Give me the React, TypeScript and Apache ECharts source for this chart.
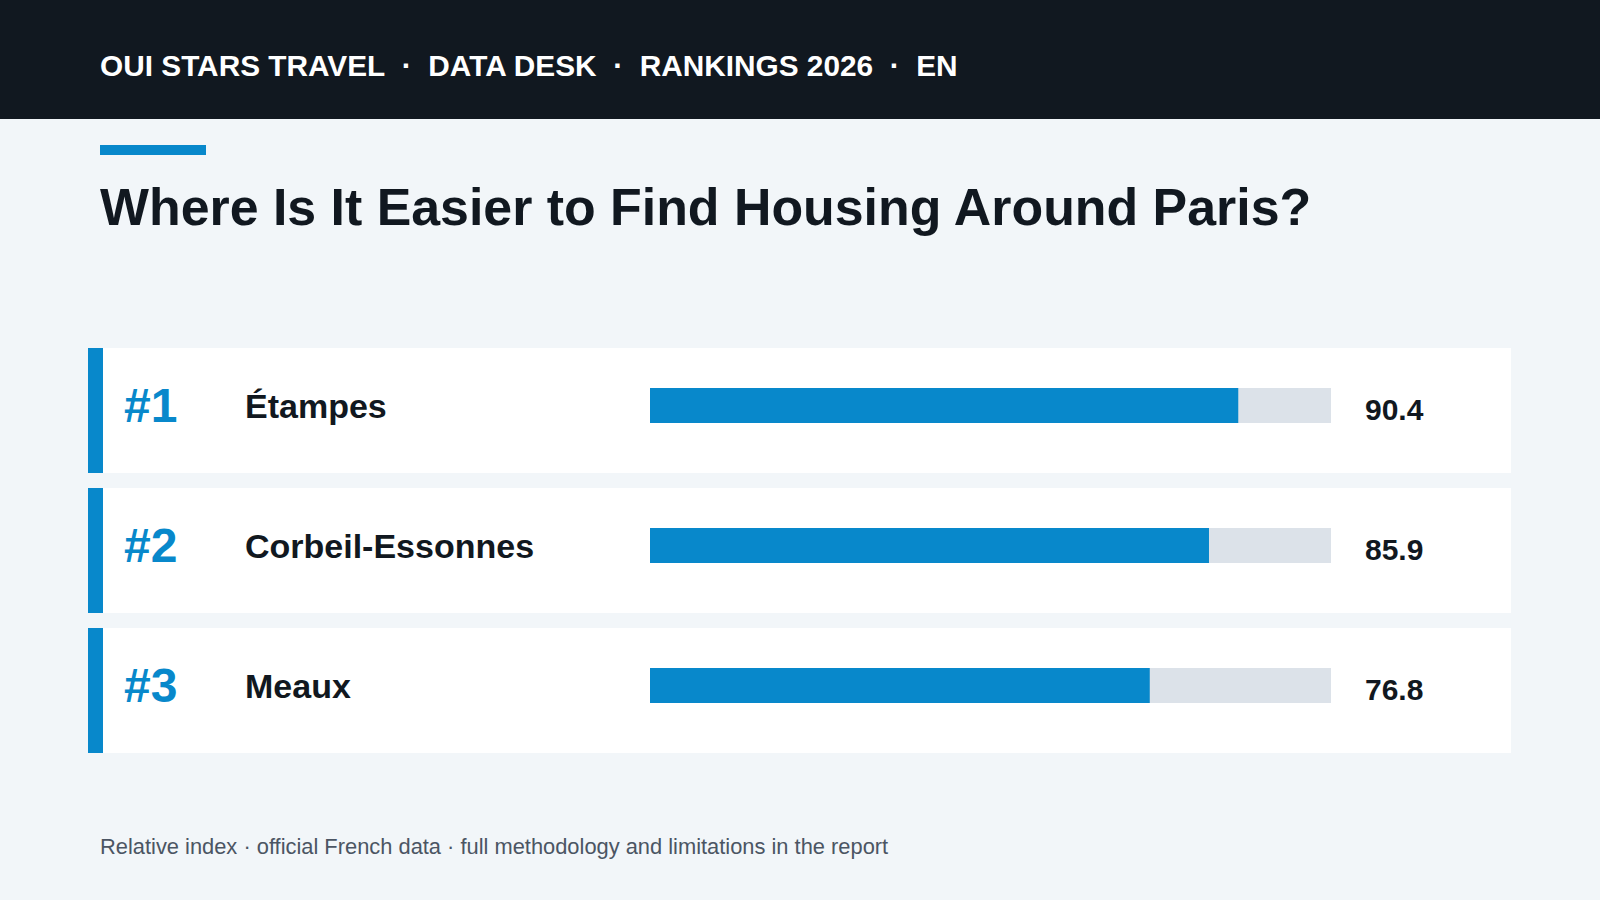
import React, { useEffect, useRef } from "react";
import * as echarts from "echarts";

const categories = ["Étampes", "Corbeil-Essonnes", "Meaux"];
const ranks = ["#1", "#2", "#3"];
const values = [90.4, 85.9, 76.8];
const axisMax = 104.65;
const trackValues = [axisMax, axisMax, axisMax];
const headerLine = "OUI STARS TRAVEL\u00a0\u00a0·\u00a0\u00a0DATA DESK\u00a0\u00a0·\u00a0\u00a0RANKINGS 2026\u00a0\u00a0·\u00a0\u00a0EN";
const titleLine = "Where Is It Easier to Find Housing Around Paris?";
const footerLine = "Relative index · official French data · full methodology and limitations in the report";

const FONT = '"Liberation Sans", Arial, sans-serif';
const BLUE = "#0888cb";
const INK = "#111820";
const cardTops = [348, 488, 628];

export default function App() {
  const ref = useRef<HTMLDivElement>(null);
  useEffect(() => {
    const chart = echarts.init(ref.current!, null, { renderer: "svg" });
    const cards = cardTops.flatMap((y) => [
      { type: "rect", z: 0, shape: { x: 88, y, width: 1423, height: 125 }, style: { fill: "#ffffff" } },
      { type: "rect", z: 1, shape: { x: 88, y, width: 15, height: 125 }, style: { fill: BLUE } },
    ]);
    chart.setOption({
      animation: false,
      backgroundColor: "#f2f6f9",
      textStyle: { fontFamily: FONT },
      title: [
        { text: headerLine, left: 95, top: 45, textStyle: { color: "#ffffff", fontSize: 29.8, fontWeight: "bold", fontFamily: FONT } },
        { text: titleLine, left: 95, top: 176, textStyle: { color: INK, fontSize: 51.87, fontWeight: "bold", fontFamily: FONT } },
        { text: footerLine, left: 95, top: 830, textStyle: { color: "#4b5563", fontSize: 21.86, fontWeight: "normal", fontFamily: FONT } },
      ],
      graphic: {
        elements: [
          { type: "rect", z: 0, shape: { x: 0, y: 0, width: 1600, height: 119 }, style: { fill: INK } },
          { type: "rect", z: 0, shape: { x: 100, y: 145, width: 106, height: 10 }, style: { fill: BLUE } },
          ...cards,
        ],
      },
      grid: { left: 650, top: 335.5, width: 681, height: 420, containLabel: false },
      xAxis: { type: "value", min: 0, max: axisMax, show: false },
      yAxis: [
        {
          type: "category",
          inverse: true,
          data: categories,
          axisLine: { show: false },
          axisTick: { show: false },
          axisLabel: { align: "left", margin: 405, color: INK, fontSize: 34, fontWeight: "bold", fontFamily: FONT },
        },
        {
          type: "category",
          position: "left",
          inverse: true,
          data: ranks,
          axisLine: { show: false },
          axisTick: { show: false },
          axisLabel: { align: "left", margin: 526, color: BLUE, fontSize: 48, fontWeight: "bold", fontFamily: FONT },
        },
      ],
      series: [
        {
          type: "bar",
          data: trackValues,
          barWidth: 35,
          barGap: "-100%",
          silent: true,
          itemStyle: { color: "#dce2e9" },
          label: {
            show: true,
            position: "right",
            distance: 34,
            offset: [0, 4],
            color: INK,
            fontSize: 30,
            fontWeight: "bold",
            fontFamily: FONT,
            formatter: (p: any) => values[p.dataIndex].toFixed(1),
          },
        },
        { type: "bar", data: values, barWidth: 35, barGap: "-100%", itemStyle: { color: BLUE } },
      ],
    });
    return () => chart.dispose();
  }, []);
  return <div ref={ref} style={{ position: "fixed", left: 0, top: 0, width: 1600, height: 900 }} />;
}
